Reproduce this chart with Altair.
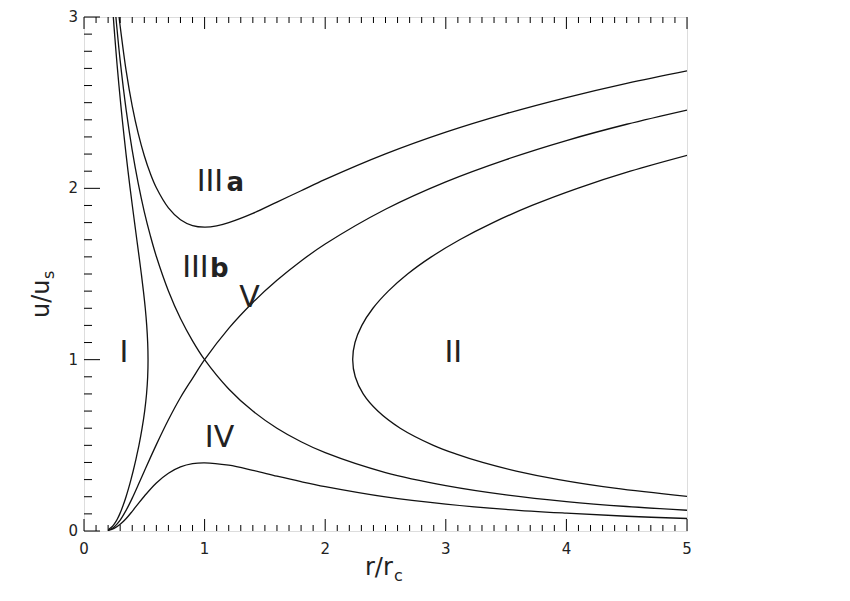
import altair as alt
import pandas as pd

# ---------------- data ----------------
# Type III_a
r_IIIa = [0.29, 0.3, 0.35, 0.4, 0.45, 0.5, 0.55, 0.6, 0.7, 0.8, 0.9, 1.0, 1.1, 1.2, 1.4, 1.6, 1.8, 2.0, 2.5, 3.0, 3.5, 4.0, 4.5, 5.0]
u_IIIa = [3.006, 2.946, 2.684, 2.48, 2.319, 2.19, 2.086, 2.003, 1.886, 1.817, 1.783, 1.774, 1.781, 1.80, 1.854, 1.92, 1.986, 2.052, 2.201, 2.328, 2.436, 2.53, 2.613, 2.686]

# Type IV
r_IV = [0.2, 0.25, 0.3, 0.35, 0.4, 0.45, 0.5, 0.6, 0.7, 0.8, 0.9, 1.0, 1.2, 1.4, 1.6, 1.8, 2.0, 2.5, 3.0, 3.5, 4.0, 4.5, 5.0]
u_IV = [0.003, 0.015, 0.039, 0.073, 0.115, 0.160, 0.203, 0.280, 0.337, 0.374, 0.393, 0.398, 0.384, 0.354, 0.320, 0.288, 0.259, 0.199, 0.157, 0.126, 0.104, 0.086, 0.073]

# Type III_b (critical, decelerating)
r_IIIb = [0.26, 0.27, 0.3, 0.35, 0.4, 0.45, 0.5, 0.55, 0.6, 0.7, 0.8, 0.9, 1.0, 1.2, 1.4, 1.6, 1.8, 2.0, 2.5, 3.0, 3.5, 4.0, 4.5, 5.0]
u_IIIb = [3.036, 2.958, 2.745, 2.455, 2.221, 2.027, 1.863, 1.724, 1.602, 1.401, 1.240, 1.110, 1.0, 0.829, 0.700, 0.600, 0.521, 0.457, 0.341, 0.265, 0.211, 0.172, 0.143, 0.121]

# Type V (critical, accelerating)
r_V = [0.2, 0.22, 0.25, 0.3, 0.35, 0.4, 0.45, 0.5, 0.6, 0.7, 0.8, 0.9, 1.0, 1.2, 1.4, 1.6, 1.8, 2.0, 2.5, 3.0, 3.5, 4.0, 4.5, 5.0]
u_V = [0.005, 0.010, 0.024, 0.064, 0.122, 0.192, 0.270, 0.349, 0.504, 0.649, 0.779, 0.891, 1.0, 1.183, 1.334, 1.463, 1.576, 1.675, 1.878, 2.038, 2.168, 2.279, 2.374, 2.457]

# Type I
u_I = [0.01, 0.02, 0.03, 0.05, 0.07, 0.1, 0.15, 0.2, 0.25, 0.3, 0.35, 0.4, 0.45, 0.5, 0.6, 0.7, 0.8, 0.9, 1.0, 1.1, 1.2, 1.3, 1.4, 1.5, 1.6, 1.7, 1.8, 1.9, 2.0, 2.1, 2.2, 2.4, 2.5, 2.6, 2.7, 2.8, 2.9, 3.0]
r_I = [0.2046, 0.2248, 0.2393, 0.26, 0.2765, 0.2969, 0.3248, 0.3487, 0.37, 0.3894, 0.4077, 0.4247, 0.4402, 0.4555, 0.4817, 0.503, 0.5186, 0.528, 0.531, 0.528, 0.520, 0.508, 0.4927, 0.4755, 0.457, 0.438, 0.4193, 0.4007, 0.3825, 0.365, 0.3486, 0.3175, 0.3034, 0.2898, 0.277, 0.265, 0.2537, 0.243]

# Type II
u_II = [0.2, 0.25, 0.3, 0.35, 0.4, 0.45, 0.5, 0.6, 0.7, 0.8, 0.9, 1.0, 1.1, 1.2, 1.3, 1.4, 1.5, 1.6, 1.7, 1.8, 1.9, 2.0, 2.1, 2.2]
r_II = [5.033, 4.40, 3.937, 3.584, 3.305, 3.082, 2.897, 2.622, 2.436, 2.315, 2.249, 2.228, 2.247, 2.304, 2.396, 2.523, 2.683, 2.88, 3.115, 3.392, 3.715, 4.092, 4.53, 5.04]

# region labels
numeral_text = ["I", "II", "III", "III", "IV", "V"]
numeral_r = [0.331, 3.062, 0.934, 0.814, 1.124, 1.372]
numeral_u = [0.987, 0.987, 1.985, 1.483, 0.490, 1.308]
numeral_align = ["center", "center", "left", "left", "center", "center"]

letter_text = ["a", "b"]
letter_r = [1.182, 1.045]
letter_u = [1.985, 1.483]

# axis ticks and tick labels
x_major = [0, 1, 2, 3, 4, 5]
x_minor = [0.1, 0.2, 0.3, 0.4, 0.5, 0.6, 0.7, 0.8, 0.9,
           1.1, 1.2, 1.3, 1.4, 1.5, 1.6, 1.7, 1.8, 1.9,
           2.1, 2.2, 2.3, 2.4, 2.5, 2.6, 2.7, 2.8, 2.9,
           3.1, 3.2, 3.3, 3.4, 3.5, 3.6, 3.7, 3.8, 3.9,
           4.1, 4.2, 4.3, 4.4, 4.5, 4.6, 4.7, 4.8, 4.9]
y_major = [0, 1, 2, 3]
y_minor = [0.1, 0.2, 0.3, 0.4, 0.5, 0.6, 0.7, 0.8, 0.9,
           1.1, 1.2, 1.3, 1.4, 1.5, 1.6, 1.7, 1.8, 1.9,
           2.1, 2.2, 2.3, 2.4, 2.5, 2.6, 2.7, 2.8, 2.9]

# ---------------- chart ----------------
W, H = 603, 514
FONT = "DejaVu Sans"
TXT = "#222222"
xscale = alt.Scale(domain=[0, 5], nice=False, zero=False)
yscale = alt.Scale(domain=[0, 3], nice=False, zero=False)

curves = [
    ("IIIa", r_IIIa, u_IIIa),
    ("IV", r_IV, u_IV),
    ("IIIb", r_IIIb, u_IIIb),
    ("V", r_V, u_V),
    ("I", r_I, u_I),
    ("II", r_II, u_II),
]
rows = []
for name, rs, us in curves:
    for i, (r, u) in enumerate(zip(rs, us)):
        rows.append({"curve": name, "r": r, "u": u, "i": i})
df = pd.DataFrame(rows)

lines = alt.Chart(df).mark_line(
    clip=True, color="#111111", strokeWidth=1.3, interpolate="catmull-rom"
).encode(
    x=alt.X("r:Q", scale=xscale, axis=None),
    y=alt.Y("u:Q", scale=yscale, axis=None),
    detail="curve:N",
    order="i:Q",
)

def xticks(vals, y0, y1):
    return alt.Chart(pd.DataFrame({"v": vals})).mark_rule(color="black", strokeWidth=1).encode(
        x=alt.X("v:Q", scale=xscale, axis=None), y=alt.value(y0), y2=alt.value(y1))

def yticks(vals, x0, x1):
    return alt.Chart(pd.DataFrame({"v": vals})).mark_rule(color="black", strokeWidth=1).encode(
        y=alt.Y("v:Q", scale=yscale, axis=None), x=alt.value(x0), x2=alt.value(x1))

ticks = [
    xticks(x_minor, H, H - 6), xticks(x_major, H, H - 12),
    xticks(x_minor, 0, 6), xticks(x_major, 0, 12),
    yticks(y_minor, 0, 8), yticks(y_major, 0, 16),
]

xlabels = alt.Chart(pd.DataFrame({"v": x_major})).mark_text(
    font=FONT, fontSize=15, color=TXT, align="center", baseline="middle"
).encode(x=alt.X("v:Q", scale=xscale, axis=None), y=alt.value(H + 18),
         text=alt.Text("v:Q", format="d"))

ylabels = alt.Chart(pd.DataFrame({"v": y_major})).mark_text(
    font=FONT, fontSize=15, color=TXT, align="right", baseline="middle"
).encode(y=alt.Y("v:Q", scale=yscale, axis=None), x=alt.value(-6),
         text=alt.Text("v:Q", format="d"))

lab_df = pd.DataFrame({"t": numeral_text, "r": numeral_r, "u": numeral_u, "a": numeral_align})
labels = []
for al in ["center", "left"]:
    sub = lab_df[lab_df["a"] == al]
    labels.append(alt.Chart(sub).mark_text(
        font=FONT, fontSize=30, color=TXT, align=al, baseline="alphabetic"
    ).encode(x=alt.X("r:Q", scale=xscale, axis=None), y=alt.Y("u:Q", scale=yscale, axis=None), text="t:N"))

letters = alt.Chart(pd.DataFrame({"t": letter_text, "r": letter_r, "u": letter_u})).mark_text(
    font=FONT, fontSize=26, fontWeight="bold", color=TXT, align="left", baseline="alphabetic"
).encode(x=alt.X("r:Q", scale=xscale, axis=None), y=alt.Y("u:Q", scale=yscale, axis=None), text="t:N")

# axis titles (r/r_c and u/u_s)
def title_text(s, x, y, size, angle=0):
    return alt.Chart(pd.DataFrame({"t": [s]})).mark_text(
        font=FONT, fontSize=size, color=TXT, align="left", baseline="alphabetic", angle=angle
    ).encode(text="t:N", x=alt.value(x), y=alt.value(y))

titles = [
    title_text("r/r", 281, 558, 24),
    title_text("c", 310, 564, 16),
    title_text("u/u", -35, 301, 24, 270),
    title_text("s", -30, 262, 16, 270),
]

chart = alt.layer(lines, *ticks, xlabels, ylabels, *labels, letters, *titles).properties(
    width=W, height=H,
    autosize=alt.AutoSizeParams(type="none"),
    padding={"left": 76, "top": 9, "right": 20, "bottom": 60},
).configure_view(stroke="black", strokeWidth=1.5).configure(background="white")

chart.save("out.html", embed_options={"renderer": "svg", "actions": False})
